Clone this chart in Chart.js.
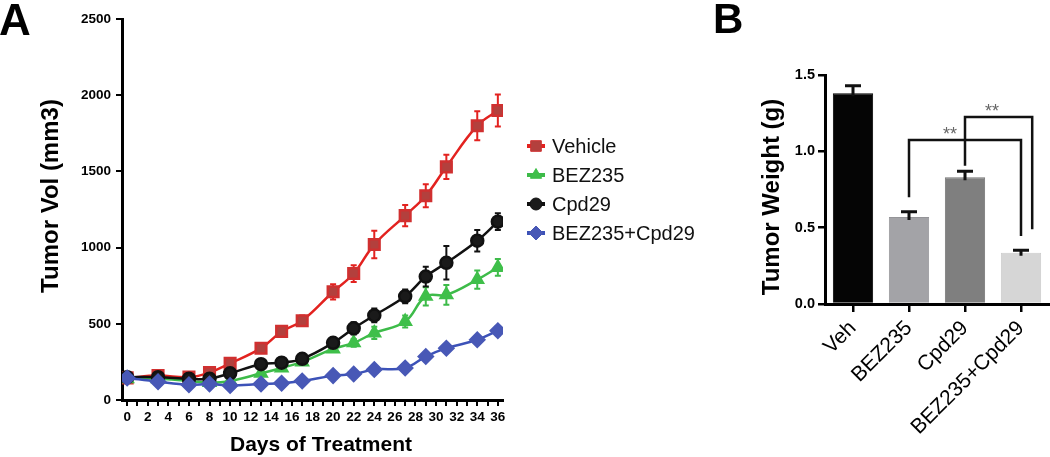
<!DOCTYPE html>
<html>
<head>
<meta charset="utf-8">
<script src="https://cdn.jsdelivr.net/npm/chart.js@4/dist/chart.umd.min.js"></script>
<style>
  body { margin: 0; background: #fff; }
  #wrapA { position: absolute; left: 0; top: 0; width: 710px; height: 457px; }
  #wrapB { position: absolute; left: 710px; top: 0; width: 340px; height: 457px; }
</style>
</head>
<body>
<div id="wrapA"><canvas id="volChart" width="710" height="457"></canvas></div>
<div id="wrapB"><canvas id="weightChart" width="340" height="457"></canvas></div>
<script>
// panel A - tumour volume over time
const days = [0, 3, 6, 8, 10, 13, 15, 17, 20, 22, 24, 27, 29, 31, 34, 36];
const vehicleVol = [145, 160, 150, 180, 240, 340, 450, 520, 710, 830, 1020, 1210, 1340, 1530, 1800, 1900];
const vehicleErr = [20, 15, 15, 20, 25, 25, 30, 35, 50, 55, 90, 70, 75, 80, 95, 105];
const bezVol = [140, 140, 125, 115, 125, 175, 210, 250, 335, 375, 440, 515, 680, 690, 790, 870];
const bezErr = [15, 10, 10, 10, 10, 15, 15, 15, 20, 25, 40, 40, 60, 65, 60, 55];
const cpdVol = [150, 150, 140, 140, 175, 235, 245, 270, 375, 470, 555, 680, 810, 900, 1045, 1170];
const cpdErr = [15, 15, 15, 15, 20, 20, 25, 25, 30, 40, 45, 45, 65, 110, 70, 55];
const comboVol = [145, 120, 100, 105, 95, 105, 110, 125, 160, 170, 200, 210, 285, 340, 395, 455];
const comboErr = [15, 10, 10, 10, 10, 10, 10, 10, 15, 15, 15, 15, 20, 25, 25, 30];
const dayTicks = Array.from({length: 37}, (_, i) => i);

// panel B - tumour weight at end
const groups = ['Veh', 'BEZ235', 'Cpd29', 'BEZ235+Cpd29'];
const weights = [1.38, 0.57, 0.83, 0.335];
const weightErr = [0.05, 0.035, 0.04, 0.017];
const brackets = [
    {from: 1, to: 3, y: 1.075, fromEnd: 0.70, toEnd: 0.445, starsAt: 1.73},
    {from: 2, to: 3.2, y: 1.225, fromEnd: 0.905, toEnd: 0.49, starsAt: 2.48}
];

const FONT = 'Liberation Sans, Arial, sans-serif';
Chart.defaults.font.family = FONT;
Chart.defaults.color = '#000';

function pts(vals) {
    return vals.map((v, i) => ({x: days[i], y: v}));
}

const panelText = {
    id: 'panelText',
    afterDraw(chart, args, opts) {
        const ctx = chart.ctx;
        (opts.items || []).forEach(t => {
            ctx.save();
            ctx.font = t.font;
            ctx.fillStyle = '#000';
            ctx.textAlign = t.align || 'center';
            ctx.textBaseline = t.baseline || 'middle';
            ctx.translate(t.x, t.y);
            if (t.rotate) ctx.rotate(t.rotate);
            ctx.fillText(t.text, 0, 0);
            ctx.restore();
        });
    }
};

const volErrorBars = {
    id: 'volErrorBars',
    beforeDatasetsDraw(chart) {
        const {ctx, scales: {x, y}} = chart;
        chart.data.datasets.forEach(ds => {
            ctx.save();
            ctx.strokeStyle = ds.borderColor;
            ctx.lineWidth = 2;
            ds.data.forEach((p, j) => {
                const px = x.getPixelForValue(p.x);
                const top = y.getPixelForValue(p.y + ds.errors[j]);
                const bot = y.getPixelForValue(p.y - ds.errors[j]);
                ctx.beginPath();
                ctx.moveTo(px, top); ctx.lineTo(px, bot);
                ctx.moveTo(px - 3, top); ctx.lineTo(px + 3, top);
                ctx.moveTo(px - 3, bot); ctx.lineTo(px + 3, bot);
                ctx.stroke();
            });
            ctx.restore();
        });
    }
};

const volLegend = {
    id: 'volLegend',
    afterDraw(chart) {
        const ctx = chart.ctx;
        chart.data.datasets.forEach((ds, i) => {
            const yy = 146 + i * 29;
            ctx.save();
            ctx.strokeStyle = ds.borderColor;
            ctx.lineWidth = 4;
            ctx.beginPath();
            ctx.moveTo(527, yy); ctx.lineTo(545, yy);
            ctx.stroke();
            ctx.fillStyle = ds.pointBackgroundColor;
            ctx.strokeStyle = ds.pointBorderColor;
            ctx.lineWidth = 1;
            Chart.helpers.drawPoint(ctx, {pointStyle: ds.pointStyle, radius: ds.pointRadius, rotation: 0, borderWidth: 1}, 536, yy);
            ctx.fillStyle = '#111';
            ctx.font = '20px ' + FONT;
            ctx.textAlign = 'left';
            ctx.textBaseline = 'middle';
            ctx.fillText(ds.label, 552, yy + 1);
            ctx.restore();
        });
    }
};

new Chart(document.getElementById('volChart'), {
    type: 'line',
    data: {
        datasets: [
            {label: 'Vehicle', data: pts(vehicleVol), errors: vehicleErr, order: 4,
             borderColor: '#e3221f', borderWidth: 2.5, pointStyle: 'rect', pointRadius: 7.5,
             pointBackgroundColor: '#b3403d', pointBorderColor: '#d03030', tension: 0.4},
            {label: 'BEZ235', data: pts(bezVol), errors: bezErr, order: 3,
             borderColor: '#3dbb49', borderWidth: 2.5, pointStyle: 'triangle', pointRadius: 6.5,
             pointBackgroundColor: '#3fbf4a', pointBorderColor: '#3fbf4a', tension: 0.4},
            {label: 'Cpd29', data: pts(cpdVol), errors: cpdErr, order: 2,
             borderColor: '#111111', borderWidth: 2.5, pointStyle: 'circle', pointRadius: 6,
             pointBackgroundColor: '#1a1a1a', pointBorderColor: '#111', tension: 0.4},
            {label: 'BEZ235+Cpd29', data: pts(comboVol), errors: comboErr, order: 1,
             borderColor: '#3c52b8', borderWidth: 2.5, pointStyle: 'rectRot', pointRadius: 7,
             pointBackgroundColor: '#4858b6', pointBorderColor: '#4858b6', tension: 0.4}
        ]
    },
    options: {
        responsive: false,
        animation: false,
        devicePixelRatio: 1,
        layout: {padding: {left: 0, top: 19, right: 207, bottom: 0}},
        plugins: {
            legend: {display: false},
            tooltip: {enabled: false},
            panelText: {items: [
                {text: 'A', x: -1, y: 35, font: 'bold 44px ' + FONT, align: 'left', baseline: 'alphabetic'},
                {text: 'Tumor Vol (mm3)', x: 51, y: 196, font: 'bold 24px ' + FONT, rotate: -Math.PI / 2},
                {text: 'Days of Treatment', x: 321, y: 445, font: 'bold 21px ' + FONT}
            ]}
        },
        scales: {
            x: {
                type: 'linear', min: -0.5, max: 36.5,
                afterBuildTicks: s => { s.ticks = dayTicks.map(v => ({value: v})); },
                afterFit: s => { s.height = 57; },
                ticks: {callback: v => (v % 2 === 0 ? String(v) : ''), font: {size: 13.5, weight: 'bold'}, color: '#000', padding: 3, maxRotation: 0, autoSkip: false},
                grid: {drawOnChartArea: false, color: '#000', lineWidth: 2, tickLength: 6},
                border: {color: '#000', width: 3}
            },
            y: {
                min: 0, max: 2500,
                afterFit: s => { s.width = 122; },
                ticks: {stepSize: 500, callback: v => String(v), font: {size: 13.5, weight: 'bold'}, color: '#000', padding: 5},
                grid: {drawOnChartArea: false, color: '#000', lineWidth: 2, tickLength: 6},
                border: {color: '#000', width: 3}
            }
        }
    },
    plugins: [volErrorBars, volLegend, panelText]
});

const weightMarks = {
    id: 'weightMarks',
    afterDatasetsDraw(chart) {
        const {ctx, scales: {x, y}} = chart;
        ctx.save();
        ctx.strokeStyle = '#111';
        ctx.lineWidth = 3;
        weights.forEach((w, i) => {
            const px = x.getPixelForValue(i);
            const top = y.getPixelForValue(w + weightErr[i]);
            ctx.beginPath();
            ctx.moveTo(px, y.getPixelForValue(w) + 3); ctx.lineTo(px, top);
            ctx.moveTo(px - 8, top); ctx.lineTo(px + 8, top);
            ctx.stroke();
        });
        ctx.lineWidth = 2.5;
        brackets.forEach(b => {
            const x1 = x.getPixelForValue(b.from), x2 = x.getPixelForValue(b.to);
            const yb = y.getPixelForValue(b.y);
            ctx.beginPath();
            ctx.moveTo(x1, y.getPixelForValue(b.fromEnd));
            ctx.lineTo(x1, yb); ctx.lineTo(x2, yb);
            ctx.lineTo(x2, y.getPixelForValue(b.toEnd));
            ctx.stroke();
            ctx.fillStyle = '#666';
            ctx.font = '18px ' + FONT;
            ctx.textAlign = 'center';
            ctx.textBaseline = 'alphabetic';
            ctx.fillText('**', x.getPixelForValue(b.starsAt), yb);
        });
        ctx.restore();
    }
};

new Chart(document.getElementById('weightChart'), {
    type: 'bar',
    data: {
        labels: groups,
        datasets: [{
            data: weights,
            backgroundColor: ['#050505', '#a3a3a7', '#7f7f7f', '#d6d6d6'],
            borderColor: ['#000000', '#949498', '#747474', '#cbcbcb'],
            borderWidth: 1,
            barPercentage: 0.72,
            categoryPercentage: 1
        }]
    },
    options: {
        responsive: false,
        animation: false,
        devicePixelRatio: 1,
        layout: {padding: {left: 0, top: 75, right: 1, bottom: 0}},
        plugins: {
            legend: {display: false},
            tooltip: {enabled: false},
            panelText: {items: [
                {text: 'B', x: 3, y: 33, font: 'bold 42px ' + FONT, align: 'left', baseline: 'alphabetic'},
                {text: 'Tumor Weight (g)', x: 62, y: 197, font: 'bold 24px ' + FONT, rotate: -Math.PI / 2}
            ]}
        },
        scales: {
            x: {
                offset: true,
                afterFit: s => { s.height = 153; },
                ticks: {font: {size: 21}, color: '#000', minRotation: 45, maxRotation: 45, padding: 4, autoSkip: false},
                grid: {offset: false, drawOnChartArea: false, color: '#000', lineWidth: 2.5, tickLength: 8},
                border: {color: '#000', width: 3}
            },
            y: {
                min: 0, max: 1.5,
                afterFit: s => { s.width = 115; },
                ticks: {stepSize: 0.5, callback: v => v.toFixed(1), font: {size: 14.5, weight: 'bold'}, color: '#000', padding: 3},
                grid: {drawOnChartArea: false, color: '#000', lineWidth: 2.5, tickLength: 7},
                border: {color: '#000', width: 3}
            }
        }
    },
    plugins: [weightMarks, panelText]
});
</script>
</body>
</html>
